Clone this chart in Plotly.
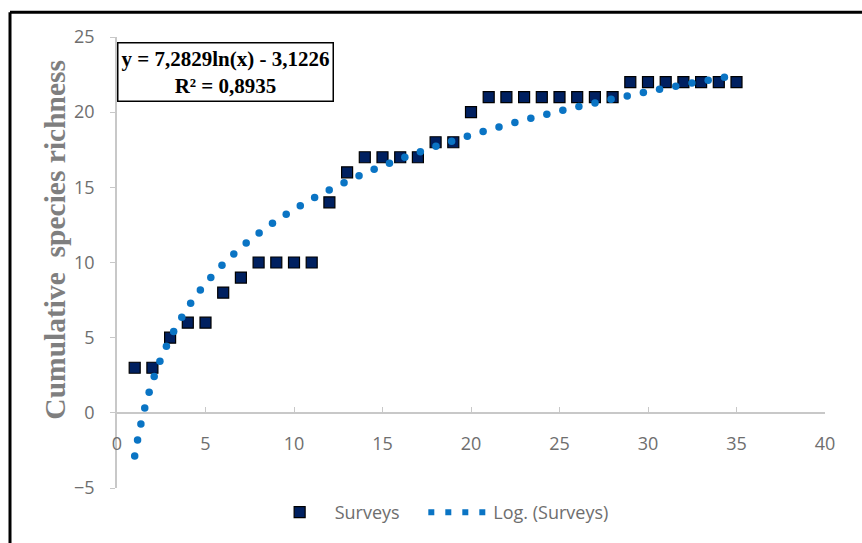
import numpy as np
import plotly.graph_objects as go

# ---- data ----
surveys = list(range(1, 36))
richness = [3, 3, 5, 6, 6, 8, 9, 10, 10, 10, 10, 14, 16, 17, 17, 17, 17, 18, 18, 20,
            21, 21, 21, 21, 21, 21, 21, 21, 22, 22, 22, 22, 22, 22, 22]
x_ticks = [0, 5, 10, 15, 20, 25, 30, 35, 40]
y_ticks = [-5, 0, 5, 10, 15, 20, 25]
equation_text = "y = 7,2829ln(x) - 3,1226<br>R² = 0,8935"
y_title = "Cumulative\u00a0 species richness"
series_name = "Surveys"
trend_name = "Log. (Surveys)"

# ---- layout geometry ----
W, H = 862, 543
ML, MR, MT, MB = 117, 37, 37, 52
XR = [0, 40]
YR = [-5, 25]
pw, ph = W - ML - MR, H - MT - MB
sx = pw / (XR[1] - XR[0])
sy = ph / (YR[1] - YR[0])

def px_x(p):
    return (p - ML) / pw

def px_y(p):
    return 1 - (p - MT) / ph

# ---- logarithmic trendline fitted from the data ----
b, a = np.polyfit(np.log(surveys), richness, 1)
xf = np.linspace(min(surveys), max(surveys), 4000)
yf = b * np.log(xf) + a
# dots at equal on-screen spacing (dotted line look)
dxp = np.diff(xf) * sx
dyp = np.diff(yf) * sy
s = np.concatenate([[0], np.cumsum(np.hypot(dxp, dyp))])
spacing = 16.5
targets = np.arange(0, s[-1] + 0.1, spacing)
tx = np.interp(targets, s, xf)
ty = b * np.log(tx) + a

TREND = "#0A74C4"

fig = go.Figure()
fig.add_trace(go.Scatter(
    x=surveys, y=richness, mode="markers", name=series_name + "\u00a0" * 4,
    marker=dict(symbol="square", size=11, color="#002060",
                line=dict(color="#000000", width=1.2)),
))
fig.add_trace(go.Scatter(
    x=tx, y=ty, mode="markers", showlegend=False, name=trend_name,
    marker=dict(symbol="circle", size=7.5, color=TREND, line=dict(width=0)),
))
fig.add_trace(go.Scatter(
    x=[None], y=[None], mode="lines", name=trend_name,
    line=dict(color=TREND, width=6, dash="6px,11px"),
))

tick_font = dict(family="Open Sans, Liberation Sans, sans-serif", size=18, color="#6E6E6E")

fig.update_layout(
    width=W, height=H,
    margin=dict(l=ML, r=MR, t=MT, b=MB),
    paper_bgcolor="white", plot_bgcolor="white",
    xaxis=dict(range=XR, tickvals=x_ticks, showgrid=False, zeroline=False,
               showline=True, linecolor="#C8C8C8", linewidth=1.5,
               ticks="inside", ticklen=5, tickcolor="#C8C8C8",
               anchor="free", position=(0 - YR[0]) / (YR[1] - YR[0]),
               ticklabelstandoff=15, tickfont=tick_font),
    yaxis=dict(range=YR, tickvals=y_ticks, showgrid=False, zeroline=False,
               showline=True, linecolor="#C8C8C8", linewidth=1.5,
               ticks="outside", ticklen=5, tickcolor="#C8C8C8",
               ticklabelstandoff=12, tickfont=tick_font),
    legend=dict(orientation="h", x=0.455, xanchor="center", y=px_y(497), yanchor="top",
                font=dict(family="Open Sans, Liberation Sans, sans-serif", size=18,
                          color="#6E6E6E"),
                itemwidth=60, bgcolor="rgba(0,0,0,0)"),
    showlegend=True,
)

# y-axis title
fig.add_annotation(
    xref="paper", yref="paper", x=px_x(55), y=px_y(241),
    xanchor="center", yanchor="middle", showarrow=False, textangle=-90,
    text=y_title,
    font=dict(family="Liberation Serif, Times New Roman, serif",
              size=29.5, color="#7F7F7F", weight="bold"),
)

# equation box
fig.add_annotation(
    xref="paper", yref="paper", x=0, y=px_y(42),
    xanchor="left", yanchor="top", showarrow=False, align="center",
    text=equation_text,
    font=dict(family="Liberation Serif, Times New Roman, serif", size=21,
              color="#000000", weight="bold"),
    bordercolor="#000000", borderwidth=1.5, borderpad=3, bgcolor="white",
)

# outer frame (left and top edges)
fx = px_x(10)
fy = px_y(12)
fig.add_shape(type="line", xref="paper", yref="paper", x0=fx, x1=fx, y0=fy, y1=-0.2,
              line=dict(color="black", width=3))
fig.add_shape(type="line", xref="paper", yref="paper", x0=fx, x1=1.1, y0=fy, y1=fy,
              line=dict(color="black", width=3))

fig.write_html("out.html")
